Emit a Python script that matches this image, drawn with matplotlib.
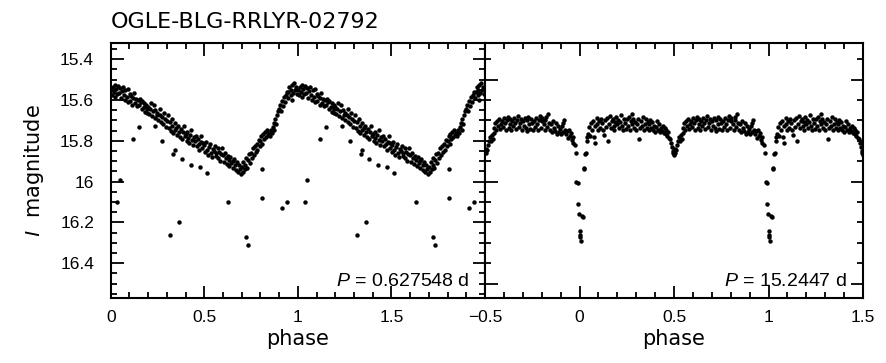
import matplotlib
matplotlib.use('Agg')
import matplotlib.pyplot as plt
from matplotlib.ticker import MultipleLocator
import numpy as np

# ---------------- data ----------------
star_name = 'OGLE-BLG-RRLYR-02792'
period_left = '0.627548'
period_right = '15.2447'

# RR Lyr fold, one cycle (phase 0..1), main band
rr_phase = [
    0.002, 0.006, 0.011, 0.015, 0.021, 0.024, 0.030, 0.034, 0.039, 0.044,
    0.051, 0.055, 0.061, 0.064, 0.070, 0.074, 0.079, 0.086, 0.090, 0.094,
    0.101, 0.104, 0.110, 0.116, 0.119, 0.125, 0.129, 0.136, 0.140, 0.146,
    0.150, 0.154, 0.161, 0.165, 0.169, 0.176, 0.180, 0.184, 0.191, 0.195,
    0.201, 0.206, 0.209, 0.215, 0.221, 0.224, 0.230, 0.236, 0.239, 0.245,
    0.250, 0.254, 0.261, 0.266, 0.270, 0.274, 0.281, 0.285, 0.289, 0.296,
    0.300, 0.305, 0.309, 0.316, 0.320, 0.326, 0.330, 0.334, 0.341, 0.345,
    0.351, 0.354, 0.360, 0.364, 0.371, 0.375, 0.379, 0.386, 0.390, 0.395,
    0.400, 0.406, 0.410, 0.414, 0.420, 0.425, 0.431, 0.435, 0.440, 0.446,
    0.450, 0.455, 0.459, 0.466, 0.470, 0.474, 0.481, 0.485, 0.490, 0.494,
    0.501, 0.504, 0.510, 0.516, 0.520, 0.524, 0.530, 0.535, 0.541, 0.545,
    0.550, 0.556, 0.560, 0.564, 0.571, 0.575, 0.580, 0.585, 0.589, 0.596,
    0.600, 0.604, 0.611, 0.615, 0.620, 0.626, 0.630, 0.634, 0.640, 0.645,
    0.651, 0.655, 0.660, 0.666, 0.670, 0.674, 0.680, 0.686, 0.690, 0.694,
    0.700, 0.705, 0.709, 0.715, 0.720, 0.724, 0.730, 0.735, 0.739, 0.745,
    0.750, 0.756, 0.760, 0.764, 0.771, 0.775, 0.780, 0.784, 0.790, 0.796,
    0.800, 0.805, 0.811, 0.815, 0.819, 0.825, 0.830, 0.836, 0.840, 0.844,
    0.851, 0.855, 0.860, 0.865, 0.870, 0.875, 0.879, 0.885, 0.890, 0.895,
    0.900, 0.904, 0.910, 0.914, 0.920, 0.925, 0.930, 0.935, 0.940, 0.946,
    0.950, 0.955, 0.961, 0.965, 0.970, 0.975, 0.980, 0.985, 0.990, 0.996,
]
rr_mag = [
    15.55, 15.575, 15.535, 15.56, 15.525, 15.585, 15.545, 15.57, 15.53, 15.565,
    15.54, 15.59, 15.555, 15.535, 15.575, 15.60, 15.55, 15.585, 15.545, 15.61,
    15.57, 15.605, 15.58, 15.625, 15.59, 15.565, 15.615, 15.595, 15.63, 15.60,
    15.625, 15.595, 15.61, 15.645, 15.605, 15.635, 15.615, 15.66, 15.625, 15.645,
    15.635, 15.67, 15.645, 15.615, 15.68, 15.655, 15.625, 15.69, 15.65, 15.675,
    15.665, 15.70, 15.675, 15.645, 15.71, 15.685, 15.72, 15.665, 15.695, 15.73,
    15.705, 15.675, 15.735, 15.71, 15.75, 15.695, 15.725, 15.76, 15.715, 15.745,
    15.735, 15.77, 15.725, 15.755, 15.78, 15.74, 15.79, 15.755, 15.725, 15.775,
    15.765, 15.80, 15.755, 15.785, 15.81, 15.77, 15.745, 15.795, 15.82, 15.78,
    15.80, 15.775, 15.825, 15.79, 15.815, 15.845, 15.805, 15.775, 15.835, 15.81,
    15.82, 15.855, 15.805, 15.845, 15.87, 15.83, 15.815, 15.86, 15.88, 15.84,
    15.85, 15.825, 15.875, 15.86, 15.835, 15.885, 15.855, 15.90, 15.865, 15.835,
    15.87, 15.905, 15.86, 15.885, 15.915, 15.875, 15.895, 15.925, 15.88, 15.91,
    15.90, 15.935, 15.89, 15.92, 15.945, 15.905, 15.955, 15.92, 15.94, 15.965,
    15.93, 15.955, 15.905, 15.94, 15.92, 15.885, 15.935, 15.895, 15.865, 15.91,
    15.86, 15.885, 15.835, 15.87, 15.825, 15.855, 15.815, 15.845, 15.795, 15.825,
    15.80, 15.775, 15.815, 15.765, 15.79, 15.755, 15.78, 15.745, 15.77, 15.76,
    15.775, 15.745, 15.76, 15.73, 15.715, 15.745, 15.695, 15.72, 15.675, 15.655,
    15.645, 15.625, 15.655, 15.605, 15.63, 15.585, 15.61, 15.575, 15.56, 15.59,
    15.56, 15.535, 15.575, 15.55, 15.525, 15.565, 15.515, 15.55, 15.535, 15.57,
]
# fainter sequence and outliers
rr_faint_phase = [0.036, 0.050, 0.118, 0.153, 0.194, 0.237, 0.276, 0.315, 0.335, 0.344,
                  0.365, 0.380, 0.430, 0.477, 0.516, 0.629, 0.723, 0.732, 0.809, 0.809,
                  0.914, 0.940, 0.969]
rr_faint_mag = [16.10, 15.99, 15.79, 15.73, 15.665, 15.727, 15.80, 16.26, 15.864, 15.844,
                16.20, 15.89, 15.92, 15.93, 15.96, 16.10, 16.27, 16.31, 15.94, 16.08,
                16.13, 16.10, 15.60]

# eclipsing binary fold, one cycle (phase -0.5..0.5)
eb_phase = [
    -0.497, -0.494, -0.490, -0.486, -0.480, -0.475, -0.470, -0.465, -0.460,
    -0.455, -0.451, -0.446, -0.440, -0.436, -0.431, -0.425, -0.421, -0.416, -0.410,
    -0.405, -0.400, -0.396, -0.390, -0.385, -0.381, -0.375, -0.370, -0.366, -0.360,
    -0.355, -0.351, -0.345, -0.340, -0.336, -0.330, -0.325, -0.320, -0.316, -0.310,
    -0.305, -0.300, -0.295, -0.291, -0.285, -0.280, -0.276, -0.270, -0.265, -0.261,
    -0.255, -0.250, -0.245, -0.241, -0.235, -0.230, -0.226, -0.220, -0.215, -0.211,
    -0.205, -0.200, -0.196, -0.190, -0.185, -0.180, -0.176, -0.170, -0.165, -0.161,
    -0.155, -0.150, -0.145, -0.141, -0.135, -0.130, -0.126, -0.120, -0.115, -0.111,
    -0.105, -0.100, -0.095, -0.090, -0.085, -0.080, -0.076, -0.070, -0.065, -0.060,
    -0.055, -0.050, -0.045, -0.040, -0.036, -0.032,
    -0.026, -0.020, -0.016, -0.010, -0.006, -0.002, 0.000, 0.002, 0.004, 0.006,
    0.014, 0.017, 0.024, 0.026, 0.030, 0.034, 0.038, 0.041,
    0.046, 0.050, 0.055, 0.060, 0.064, 0.070, 0.075, 0.080, 0.084, 0.090,
    0.095, 0.100, 0.104, 0.110, 0.115, 0.120, 0.124, 0.130, 0.135, 0.140,
    0.145, 0.150, 0.155, 0.160, 0.164, 0.170, 0.175, 0.180, 0.185, 0.190,
    0.195, 0.200, 0.205, 0.210, 0.215, 0.220, 0.225, 0.230, 0.235, 0.240,
    0.245, 0.250, 0.255, 0.260, 0.265, 0.270, 0.275, 0.280, 0.285, 0.290,
    0.295, 0.300, 0.305, 0.310, 0.315, 0.320, 0.325, 0.330, 0.335, 0.340,
    0.345, 0.350, 0.355, 0.360, 0.365, 0.370, 0.375, 0.380, 0.385, 0.390,
    0.395, 0.400, 0.405, 0.410, 0.415, 0.420, 0.425, 0.430, 0.435, 0.440,
    0.445, 0.450, 0.455, 0.460, 0.465, 0.470, 0.475,
    0.480, 0.485, 0.488, 0.492, 0.495, 0.498,
]
eb_mag = [
    15.86, 15.84, 15.845, 15.82, 15.80, 15.78, 15.80, 15.77, 15.79,
    15.76, 15.735, 15.715, 15.745, 15.705, 15.725, 15.695, 15.74, 15.72, 15.705,
    15.73, 15.69, 15.715, 15.745, 15.70, 15.685, 15.735, 15.72, 15.695, 15.745,
    15.705, 15.725, 15.69, 15.715, 15.74, 15.70, 15.68, 15.73, 15.715, 15.695,
    15.745, 15.705, 15.725, 15.69, 15.735, 15.70, 15.75, 15.685, 15.72, 15.74,
    15.695, 15.715, 15.745, 15.705, 15.73, 15.69, 15.72, 15.745, 15.70, 15.68,
    15.735, 15.705, 15.69, 15.72, 15.745, 15.70, 15.685, 15.73, 15.67, 15.715,
    15.745, 15.72, 15.755, 15.705, 15.735, 15.75, 15.715, 15.765, 15.725, 15.755,
    15.74, 15.765, 15.725, 15.755, 15.715, 15.70, 15.745, 15.765, 15.75, 15.785,
    15.745, 15.775, 15.76, 15.795, 15.78, 15.81,
    15.82, 15.86, 16.00, 16.005, 16.11, 16.16, 16.24, 16.27, 16.26, 16.29,
    16.17, 16.175, 15.94, 15.935, 15.865, 15.86, 15.80, 15.78,
    15.765, 15.73, 15.775, 15.715, 15.745, 15.705, 15.78, 15.725, 15.81, 15.69,
    15.72, 15.745, 15.705, 15.735, 15.695, 15.715, 15.745, 15.77, 15.70, 15.73,
    15.69, 15.80, 15.72, 15.68, 15.735, 15.705, 15.695, 15.725, 15.745, 15.71,
    15.685, 15.72, 15.70, 15.735, 15.71, 15.675, 15.725, 15.745, 15.695, 15.715,
    15.74, 15.695, 15.725, 15.685, 15.745, 15.705, 15.67, 15.72, 15.695, 15.735,
    15.71, 15.745, 15.72, 15.695, 15.79, 15.735, 15.705, 15.725, 15.685, 15.745,
    15.72, 15.695, 15.735, 15.71, 15.745, 15.72, 15.70, 15.735, 15.71, 15.745,
    15.725, 15.755, 15.73, 15.705, 15.745, 15.72, 15.755, 15.735, 15.75, 15.725,
    15.76, 15.735, 15.765, 15.745, 15.775, 15.755, 15.785,
    15.79, 15.81, 15.83, 15.85, 15.86, 15.87,
]

# ---------------- figure ----------------
plt.rcParams['font.family'] = ['Liberation Sans', 'DejaVu Sans']
plt.rcParams['mathtext.fontset'] = 'custom'
plt.rcParams['mathtext.it'] = 'Liberation Sans:italic'
plt.rcParams['mathtext.rm'] = 'Liberation Sans'

fig = plt.figure(figsize=(8.87, 3.63), dpi=100)
ax1 = fig.add_axes([0.1248, 0.1799, 0.4220, 0.7025])
ax2 = fig.add_axes([0.5468, 0.1799, 0.4262, 0.7025])

rr_p = np.array(rr_phase + rr_faint_phase)
rr_m = np.array(rr_mag + rr_faint_mag)
eb_p = np.array(eb_phase)
eb_m = np.array(eb_mag)

ms = 3.2
ax1.plot(rr_p, rr_m, 'o', color='black', ms=ms, mew=0)
ax1.plot(rr_p + 1, rr_m, 'o', color='black', ms=ms, mew=0)
ax2.plot(eb_p, eb_m, 'o', color='black', ms=ms, mew=0)
ax2.plot(eb_p + 1, eb_m, 'o', color='black', ms=ms, mew=0)

for ax in (ax1, ax2):
    ax.set_ylim(16.569, 15.319)
    ax.xaxis.set_major_locator(MultipleLocator(0.5))
    ax.xaxis.set_minor_locator(MultipleLocator(0.1))
    ax.tick_params(which='both', direction='in', top=True, right=True,
                   width=1.3, labelsize=12.5)
    ax.tick_params(axis='x', pad=9)
    ax.tick_params(axis='y', pad=12)
    ax.tick_params(which='major', length=9)
    ax.tick_params(which='minor', length=4.5)
    for s in ax.spines.values():
        s.set_linewidth(1.5)
    ax.set_xlabel('phase', fontsize=15, family='DejaVu Sans', labelpad=3)

ax1.yaxis.set_major_locator(MultipleLocator(0.2))
ax1.yaxis.set_minor_locator(MultipleLocator(0.05))
ax2.yaxis.set_major_locator(MultipleLocator(0.5))
ax2.yaxis.set_minor_locator(MultipleLocator(0.1))

ax1.set_xlim(0, 2)
ax1.set_xticks([0, 0.5, 1, 1.5, 2])
ax1.set_xticklabels(['0', '0.5', '1', '1.5', ''])
ax1.set_yticks([15.4, 15.6, 15.8, 16.0, 16.2, 16.4])
ax1.set_yticklabels(['15.4', '15.6', '15.8', '16', '16.2', '16.4'])
ax1.set_ylabel(r'$I$  magnitude', fontsize=15, family='DejaVu Sans', labelpad=10)

ax2.set_xlim(-0.5, 1.5)
ax2.set_xticks([-0.5, 0, 0.5, 1, 1.5])
ax2.set_xticklabels(['\u22120.5', '0', '0.5', '1', '1.5'])
ax2.tick_params(axis='y', labelleft=False)

ax1.text(0.96, 0.065, r'$P$ = ' + period_left + ' d', transform=ax1.transAxes,
         ha='right', va='center', fontsize=14)
ax2.text(0.957, 0.065, r'$P$ = ' + period_right + ' d', transform=ax2.transAxes,
         ha='right', va='center', fontsize=14)

fig.text(111 / 887, 1 - 22 / 363, star_name, ha='left', va='center',
         fontsize=16, family='DejaVu Sans')

fig.savefig('out.png', dpi=100)
